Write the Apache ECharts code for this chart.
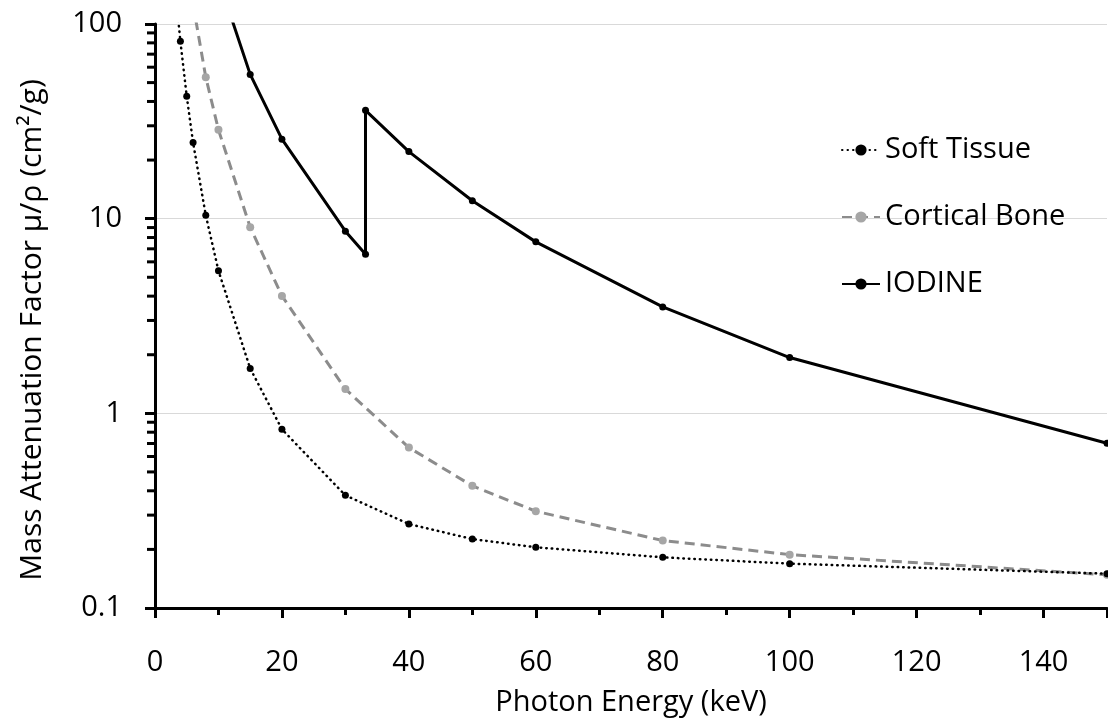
<!DOCTYPE html>
<html>
<head>
<meta charset="utf-8">
<script src="https://cdn.jsdelivr.net/npm/echarts@6/dist/echarts.min.js"></script>
<style>
  html, body { margin: 0; padding: 0; background: #fff; }
  #chart { width: 1108px; height: 722px; }
</style>
</head>
<body>
<div id="chart"></div>
<script>
// ---- Data ----
const softEnergy   = [3, 4, 5, 6, 8, 10, 15, 20, 30, 40, 50, 60, 80, 100, 150];
const softMu       = [175, 81.5, 42.5, 24.6, 10.4, 5.40, 1.70, 0.828, 0.379, 0.270, 0.226, 0.205, 0.182, 0.169, 0.150];

const boneEnergy   = [6, 8, 10, 15, 20, 30, 40, 50, 60, 80, 100, 150];
const boneMu       = [126, 53.3, 28.6, 9.04, 4.01, 1.332, 0.667, 0.424, 0.314, 0.222, 0.188, 0.148];

const iodineEnergy = [10, 15, 20, 30, 33.17, 33.17, 40, 50, 60, 80, 100, 150];
const iodineMu     = [170, 55.1, 25.6, 8.62, 6.57, 36.0, 22.1, 12.36, 7.60, 3.52, 1.935, 0.702];

const seriesNames  = ['Soft Tissue', 'Cortical Bone', 'IODINE'];
const yMinorTicks  = [0.2, 0.3, 0.4, 0.5, 0.6, 0.7, 0.8, 0.9, 2, 3, 4, 5, 6, 7, 8, 9, 20, 30, 40, 50, 60, 70, 80, 90];

const xTitle = 'Photon Energy (keV)';
const yTitle = 'Mass Attenuation Factor \u03bc/\u03c1 (cm\u00b2/g)';

function pairs(xs, ys) { return xs.map((x, i) => [x, ys[i]]); }

const FONT = '"Open Sans", "Noto Sans", sans-serif';
const chart = echarts.init(document.getElementById('chart'), null, { renderer: 'canvas' });

chart.setOption({
  backgroundColor: '#ffffff',
  animation: false,
  textStyle: { fontFamily: FONT, color: '#000' },
  grid: { left: 155, right: 1, top: 24, bottom: 112, containLabel: false },
  legend: {
    data: seriesNames,
    orient: 'vertical',
    left: 836,
    top: 130,
    itemWidth: 38,
    itemHeight: 14,
    itemGap: 37,
    textStyle: { fontFamily: FONT, fontSize: 29, color: '#000', lineHeight: 30 }
  },
  xAxis: {
    type: 'value',
    min: 0,
    max: 150,
    interval: 20,
    name: xTitle,
    nameLocation: 'middle',
    nameGap: 80,
    nameTextStyle: { fontFamily: FONT, fontSize: 29, color: '#000' },
    axisLine: { show: true, onZero: false, lineStyle: { color: '#000', width: 3 } },
    axisTick: { show: true, inside: false, length: 10, lineStyle: { color: '#000', width: 3 } },
    minorTick: { show: true, splitNumber: 2, length: 7, lineStyle: { color: '#000', width: 3 } },
    axisLabel: { margin: 40, fontSize: 29, color: '#000', fontFamily: FONT, showMaxLabel: false },
    splitLine: { show: false },
    minorSplitLine: { show: false }
  },
  yAxis: {
    type: 'log',
    logBase: 10,
    min: 0.1,
    max: 100,
    name: yTitle,
    nameLocation: 'middle',
    nameGap: 108,
    nameRotate: 90,
    nameTextStyle: { fontFamily: FONT, fontSize: 30, color: '#000', padding: [0, 28, 0, 0] },
    axisLine: { show: true, onZero: false, lineStyle: { color: '#000', width: 3 } },
    axisTick: { show: true, inside: false, length: 10, lineStyle: { color: '#000', width: 3 } },
    axisLabel: { margin: 33, fontSize: 29, color: '#000', fontFamily: FONT },
    splitLine: { show: true, lineStyle: { color: '#d9d9d9', width: 1 } }
  },
  series: [
    {
      name: seriesNames[0],
      type: 'line',
      data: pairs(softEnergy, softMu),
      symbol: 'circle',
      symbolSize: 7,
      showAllSymbol: true,
      itemStyle: { color: '#000' },
      lineStyle: { color: '#000', width: 2.5, type: [0.5, 5], cap: 'round' },
      z: 3
    },
    {
      name: seriesNames[1],
      type: 'line',
      data: pairs(boneEnergy, boneMu),
      symbol: 'circle',
      symbolSize: 8,
      showAllSymbol: true,
      itemStyle: { color: '#a6a6a6' },
      lineStyle: { color: '#8c8c8c', width: 3, type: [10, 6] },
      z: 2
    },
    {
      name: seriesNames[2],
      type: 'line',
      data: pairs(iodineEnergy, iodineMu),
      symbol: 'circle',
      symbolSize: 7,
      showAllSymbol: true,
      itemStyle: { color: '#000' },
      lineStyle: { color: '#000', width: 3, type: 'solid' },
      z: 4
    },
    {
      name: 'yMinorTicks',
      type: 'custom',
      silent: true,
      clip: false,
      z: 10,
      data: yMinorTicks.map(v => [0, v]),
      renderItem: function (params, api) {
        const p = api.coord([0, api.value(1)]);
        return {
          type: 'line',
          shape: { x1: p[0] - 8, y1: p[1], x2: p[0], y2: p[1] },
          style: { stroke: '#000', lineWidth: 3 }
        };
      }
    }
  ]
});
</script>
</body>
</html>
